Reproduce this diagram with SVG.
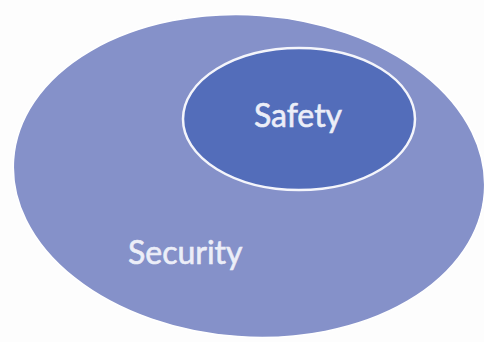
<svg xmlns="http://www.w3.org/2000/svg" width="484" height="342" viewBox="0 0 484 342">
  <style>
    .label { font-family: Lato, "Open Sans", "Liberation Sans", sans-serif; font-size: 32px; fill: #eceef8; stroke: #eceef8; stroke-width: 0.6px; }
  </style>
  <rect width="484" height="342" fill="#fdfdfd"/>
  <!-- outer set -->
  <g id="security">
    <ellipse cx="249" cy="176" rx="236" ry="161" transform="rotate(4 249 176)" fill="#8591c9" stroke="#ffffff" stroke-width="1.5"/>
    <text class="label" x="128" y="264">Security</text>
  </g>
  <!-- inner set -->
  <g id="safety">
    <ellipse cx="299" cy="119" rx="116" ry="71" fill="#536dba" stroke="#f4f5fb" stroke-width="2.5"/>
    <text class="label" x="298" y="127" text-anchor="middle">Safety</text>
  </g>
</svg>
